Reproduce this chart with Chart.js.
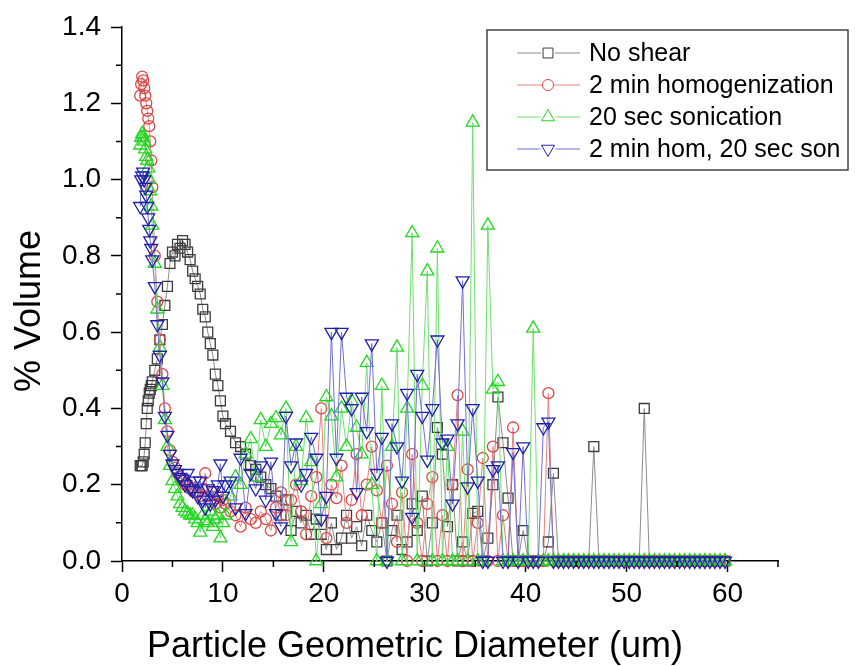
<!DOCTYPE html>
<html>
<head>
<meta charset="utf-8">
<script src="https://cdn.jsdelivr.net/npm/chart.js@4.4.0/dist/chart.umd.min.js"></script>
<style>
  html, body { margin: 0; padding: 0; background: #fff; }
</style>
</head>
<body>
<canvas id="sizeChart" width="863" height="666"></canvas>
<script>
// particle diameter bins (um)
const diameters = [
  1.8, 1.9, 2.0, 2.1, 2.2, 2.3, 2.4, 2.5, 2.6, 2.7, 2.8, 2.9, 3.0,
  3.25, 3.5, 3.75, 4.0, 4.25, 4.5, 4.75, 5.0, 5.25, 5.5, 5.75, 6.0, 6.25, 6.5, 6.75, 7.0,
  7.25, 7.5, 7.75, 8.0, 8.25, 8.5, 8.75, 9.0, 9.25, 9.5, 9.75, 10.0,
  10.25, 10.75, 11.25, 11.75, 12.25, 12.75, 13.25, 13.75, 14.25, 14.75,
  15.25, 15.75, 16.25, 16.75, 17.25, 17.75, 18.25, 18.75, 19.25, 19.75,
  20.25, 20.75, 21.25, 21.75, 22.25, 22.75, 23.25, 23.75, 24.25, 24.75,
  25.25, 25.75, 26.25, 26.75, 27.25, 27.75, 28.25, 28.75, 29.25, 29.75,
  30.25, 30.75, 31.25, 31.75, 32.25, 32.75, 33.25, 33.75, 34.25, 34.75,
  35.25, 35.75, 36.25, 36.75, 37.25, 37.75, 38.25, 38.75, 39.25, 39.75,
  40.25, 40.75, 41.25, 41.75, 42.25, 42.75, 43.25, 43.75, 44.25, 44.75,
  45.25, 45.75, 46.25, 46.75, 47.25, 47.75, 48.25, 48.75, 49.25, 49.75,
  50.25, 50.75, 51.25, 51.75, 52.25, 52.75, 53.25, 53.75, 54.25, 54.75,
  55.25, 55.75, 56.25, 56.75, 57.25, 57.75, 58.25, 58.75, 59.25, 59.75
];

// % volume per bin
const noShear = [
  0.25, 0.25, 0.25, 0.26, 0.28, 0.31, 0.36, 0.40, 0.42, 0.44, 0.45, 0.46, 0.47,
  0.50, 0.53, 0.58, 0.62, 0.67, 0.72, 0.78, 0.81, 0.80, 0.83, 0.82, 0.84, 0.83, 0.81, 0.79, 0.76,
  0.74, 0.72, 0.70, 0.66, 0.64, 0.60, 0.57, 0.54, 0.49, 0.46, 0.42, 0.38,
  0.36, 0.34, 0.31, 0.30, 0.28, 0.25, 0.24, 0.22, 0.20, 0.19,
  0.17, 0.12, 0.16, 0.08, 0.13, 0.10, 0.12, 0.07, 0.11, 0.07,
  0.03, 0.10, 0.03, 0.06, 0.12, 0.06, 0.09, 0.04, 0.12, 0.08,
  0.05, 0.10, 0.00, 0.08, 0.12, 0.03, 0.05, 0.15, 0.08, 0.17,
  0.00, 0.10, 0.35, 0.28, 0.09, 0.20, 0.00, 0.05, 0.00, 0.125,
  0.13, 0.00, 0.06, 0.20, 0.43, 0.31, 0.165, 0.00, 0.00, 0.08,
  0.00, 0.00, 0.00, 0.00, 0.05, 0.23, 0, 0, 0, 0,
  0, 0, 0, 0.30, 0, 0, 0, 0, 0, 0,
  0, 0, 0, 0.40, 0, 0, 0, 0, 0, 0,
  0, 0, 0, 0, 0, 0, 0, 0, 0, 0
];

const homogenized = [
  1.22, 1.25, 1.27, 1.26, 1.24, 1.22, 1.20, 1.18, 1.16, 1.14, 1.10, 1.05, 0.98,
  0.80, 0.68, 0.58, 0.49, 0.40, 0.34, 0.29, 0.26, 0.245, 0.23, 0.22, 0.21, 0.20, 0.20, 0.19, 0.19,
  0.18, 0.18, 0.17, 0.19, 0.23, 0.17, 0.16, 0.18, 0.15, 0.17, 0.14, 0.16,
  0.15, 0.13, 0.12, 0.09, 0.14, 0.11, 0.10, 0.13, 0.11, 0.08,
  0.14, 0.18, 0.12, 0.16, 0.20, 0.13, 0.07, 0.17, 0.22, 0.40,
  0.06, 0.20, 0.165, 0.25, 0.10, 0.16, 0.28, 0.12, 0.20, 0.30,
  0.185, 0.10, 0.25, 0.15, 0.05, 0.18, 0.00, 0.28, 0.10, 0.00,
  0.15, 0.22, 0.00, 0.12, 0.00, 0.20, 0.435, 0.00, 0.24, 0.00,
  0.10, 0.27, 0.00, 0.30, 0.00, 0.12, 0.00, 0.35, 0.00, 0.00,
  0.00, 0.00, 0.00, 0.00, 0.44, 0, 0, 0, 0, 0,
  0, 0, 0, 0, 0, 0, 0, 0, 0, 0,
  0, 0, 0, 0, 0, 0, 0, 0, 0, 0,
  0, 0, 0, 0, 0, 0, 0, 0, 0, 0
];

const sonicated = [
  1.09, 1.11, 1.12, 1.11, 1.10, 1.08, 1.06, 1.05, 1.03, 1.00, 0.97, 0.93, 0.88,
  0.78, 0.66, 0.56, 0.46, 0.37, 0.30, 0.25, 0.21, 0.19, 0.17, 0.15, 0.14, 0.13, 0.125, 0.12, 0.12,
  0.11, 0.10, 0.075, 0.12, 0.105, 0.10, 0.13, 0.09, 0.11, 0.12, 0.06, 0.10,
  0.12, 0.17, 0.22, 0.20, 0.28, 0.32, 0.22, 0.37, 0.30, 0.36,
  0.375, 0.33, 0.40, 0.05, 0.30, 0.21, 0.375, 0.26, 0.00, 0.15,
  0.43, 0.38, 0.22, 0.40, 0.30, 0.42, 0.35, 0.28, 0.52, 0.20,
  0.00, 0.46, 0.00, 0.30, 0.56, 0.00, 0.40, 0.86, 0.00, 0.46,
  0.76, 0.00, 0.82, 0.00, 0.30, 0.00, 0.00, 0.34, 0.00, 1.15,
  0.00, 0.00, 0.88, 0.45, 0.47, 0.00, 0.00, 0.00, 0.00, 0.00,
  0.00, 0.61, 0, 0, 0, 0, 0, 0, 0, 0,
  0, 0, 0, 0, 0, 0, 0, 0, 0, 0,
  0, 0, 0, 0, 0, 0, 0, 0, 0, 0,
  0, 0, 0, 0, 0, 0, 0, 0, 0, 0
];

const homSon = [
  0.93, 1.00, 1.01, 1.02, 1.00, 0.98, 0.96, 0.93, 0.90, 0.87, 0.84, 0.82, 0.79,
  0.72, 0.62, 0.54, 0.47, 0.38, 0.33, 0.28, 0.255, 0.24, 0.23, 0.22, 0.215, 0.20, 0.23, 0.19, 0.185,
  0.21, 0.17, 0.21, 0.16, 0.14, 0.19, 0.15, 0.185, 0.16, 0.20, 0.255, 0.17,
  0.20, 0.21, 0.14, 0.27, 0.125, 0.23, 0.19, 0.25, 0.16, 0.26,
  0.125, 0.09, 0.38, 0.25, 0.31, 0.20, 0.23, 0.325, 0.27, 0.11,
  0.17, 0.60, 0.27, 0.60, 0.43, 0.40, 0.18, 0.43, 0.34, 0.57,
  0.23, 0.325, 0.00, 0.36, 0.30, 0.21, 0.44, 0.115, 0.49, 0.38,
  0.265, 0.40, 0.58, 0.31, 0.32, 0.15, 0.36, 0.735, 0.195, 0.40,
  0.21, 0.00, 0.00, 0.24, 0.25, 0.00, 0.00, 0.285, 0.00, 0.30,
  0.00, 0.00, 0.00, 0.35, 0.365, 0, 0, 0, 0, 0,
  0, 0, 0, 0, 0, 0, 0, 0, 0, 0,
  0, 0, 0, 0, 0, 0, 0, 0, 0, 0,
  0, 0, 0, 0, 0, 0, 0, 0, 0, 0
];

const seriesNames = ['No shear', '2 min homogenization', '20 sec sonication', '2 min hom, 20 sec son'];
const xMajorTicks = [0, 10, 20, 30, 40, 50, 60];
const yMajorTicks = [0.0, 0.2, 0.4, 0.6, 0.8, 1.0, 1.2, 1.4];

const FONT = "'Liberation Sans', Arial, sans-serif";

function pts(vals) {
  return diameters.map((d, i) => ({ x: d, y: vals[i] }));
}

function makeSet(label, vals, markColor, lineColor, style, radius, rotation, order) {
  return {
    label: label,
    data: pts(vals),
    borderColor: lineColor,
    borderWidth: 1,
    pointBorderColor: markColor,
    pointBackgroundColor: 'rgba(0,0,0,0)',
    pointBorderWidth: 1.3,
    pointStyle: style,
    pointRadius: radius,
    pointRotation: rotation,
    tension: 0,
    clip: false,
    order: order
  };
}

const datasets = [
  makeSet(seriesNames[0], noShear, '#3c3c3c', '#8c8c8c', 'rect', 7, 0, 4),
  makeSet(seriesNames[1], homogenized, '#d94848', '#e88080', 'circle', 5.5, 0, 3),
  makeSet(seriesNames[2], sonicated, '#22d822', '#6ee06e', 'triangle', 7.5, 0, 2),
  makeSet(seriesNames[3], homSon, '#2020aa', '#7070d0', 'triangle', 7.5, 180, 1)
];

function isMajor(list, v) {
  return list.some(m => Math.abs(m - v) < 1e-6);
}

// minor ticks, axis titles and the boxed legend
const extras = {
  id: 'extras',
  afterDraw(chart) {
    const ctx = chart.ctx;
    const xs = chart.scales.x, ys = chart.scales.y;
    ctx.save();
    ctx.strokeStyle = '#000';
    ctx.lineWidth = 1.5;
    ctx.beginPath();
    xs.ticks.forEach(t => {
      if (!isMajor(xMajorTicks, t.value)) {
        const px = xs.getPixelForValue(t.value);
        ctx.moveTo(px, ys.bottom);
        ctx.lineTo(px, ys.bottom + 6);
      }
    });
    ys.ticks.forEach(t => {
      if (!isMajor(yMajorTicks, t.value)) {
        const py = ys.getPixelForValue(t.value);
        ctx.moveTo(xs.left, py);
        ctx.lineTo(xs.left - 6, py);
      }
    });
    ctx.stroke();

    // axis titles
    ctx.fillStyle = '#000';
    ctx.font = '36px ' + FONT;
    ctx.textAlign = 'center';
    ctx.textBaseline = 'middle';
    ctx.fillText('Particle Geometric Diameter (um)', 415, 647);
    ctx.save();
    ctx.translate(30, 311);
    ctx.rotate(-Math.PI / 2);
    ctx.fillText('% Volume', 0, 0);
    ctx.restore();

    // legend
    ctx.strokeStyle = '#444';
    ctx.lineWidth = 1.5;
    ctx.strokeRect(487, 30, 361, 140);
    ctx.font = '25px ' + FONT;
    ctx.textAlign = 'left';
    chart.data.datasets.forEach((ds, i) => {
      const y = 53 + i * 32;
      const cx = 548;
      const r = ds.pointRadius;
      ctx.strokeStyle = ds.borderColor;
      ctx.lineWidth = 1;
      ctx.beginPath();
      ctx.moveTo(517, y);
      ctx.lineTo(cx - r, y);
      ctx.moveTo(cx + r, y);
      ctx.lineTo(580, y);
      ctx.stroke();
      ctx.strokeStyle = ds.pointBorderColor;
      ctx.fillStyle = 'rgba(0,0,0,0)';
      Chart.helpers.drawPoint(ctx, {
        pointStyle: ds.pointStyle, radius: r, rotation: ds.pointRotation, borderWidth: 1.5
      }, cx, y);
      ctx.fillStyle = '#000';
      ctx.fillText(ds.label, 589, y + 1);
    });
    ctx.restore();
  }
};

const ctx = document.getElementById('sizeChart').getContext('2d');
new Chart(ctx, {
  type: 'line',
  data: { datasets: datasets },
  options: {
    responsive: false,
    animation: false,
    layout: { padding: { left: 0, top: 27, right: 85, bottom: 0 } },
    plugins: { legend: { display: false }, tooltip: { enabled: false } },
    scales: {
      x: {
        type: 'linear',
        min: 0,
        max: 65,
        afterFit: s => { s.height = 105; },
        border: { display: true, color: '#000', width: 1.5 },
        grid: {
          display: true,
          drawOnChartArea: false,
          drawTicks: true,
          tickLength: 11,
          tickWidth: 1.5,
          tickColor: c => (c.tick && isMajor(xMajorTicks, c.tick.value)) ? '#000' : 'rgba(0,0,0,0)'
        },
        ticks: {
          stepSize: 5,
          autoSkip: false,
          maxRotation: 0,
          padding: 5,
          color: '#000',
          font: { family: FONT, size: 28 },
          callback: v => isMajor(xMajorTicks, v) ? String(v) : ''
        }
      },
      y: {
        min: 0,
        max: 1.4,
        afterFit: s => { s.width = 122; },
        border: { display: true, color: '#000', width: 1.5 },
        grid: {
          display: true,
          drawOnChartArea: false,
          drawTicks: true,
          tickLength: 11,
          tickWidth: 1.5,
          tickColor: c => (c.tick && isMajor(yMajorTicks, c.tick.value)) ? '#000' : 'rgba(0,0,0,0)'
        },
        ticks: {
          stepSize: 0.1,
          autoSkip: false,
          padding: 10,
          color: '#000',
          font: { family: FONT, size: 28 },
          callback: v => isMajor(yMajorTicks, v) ? v.toFixed(1) : ''
        }
      }
    }
  },
  plugins: [extras]
});
</script>
</body>
</html>
